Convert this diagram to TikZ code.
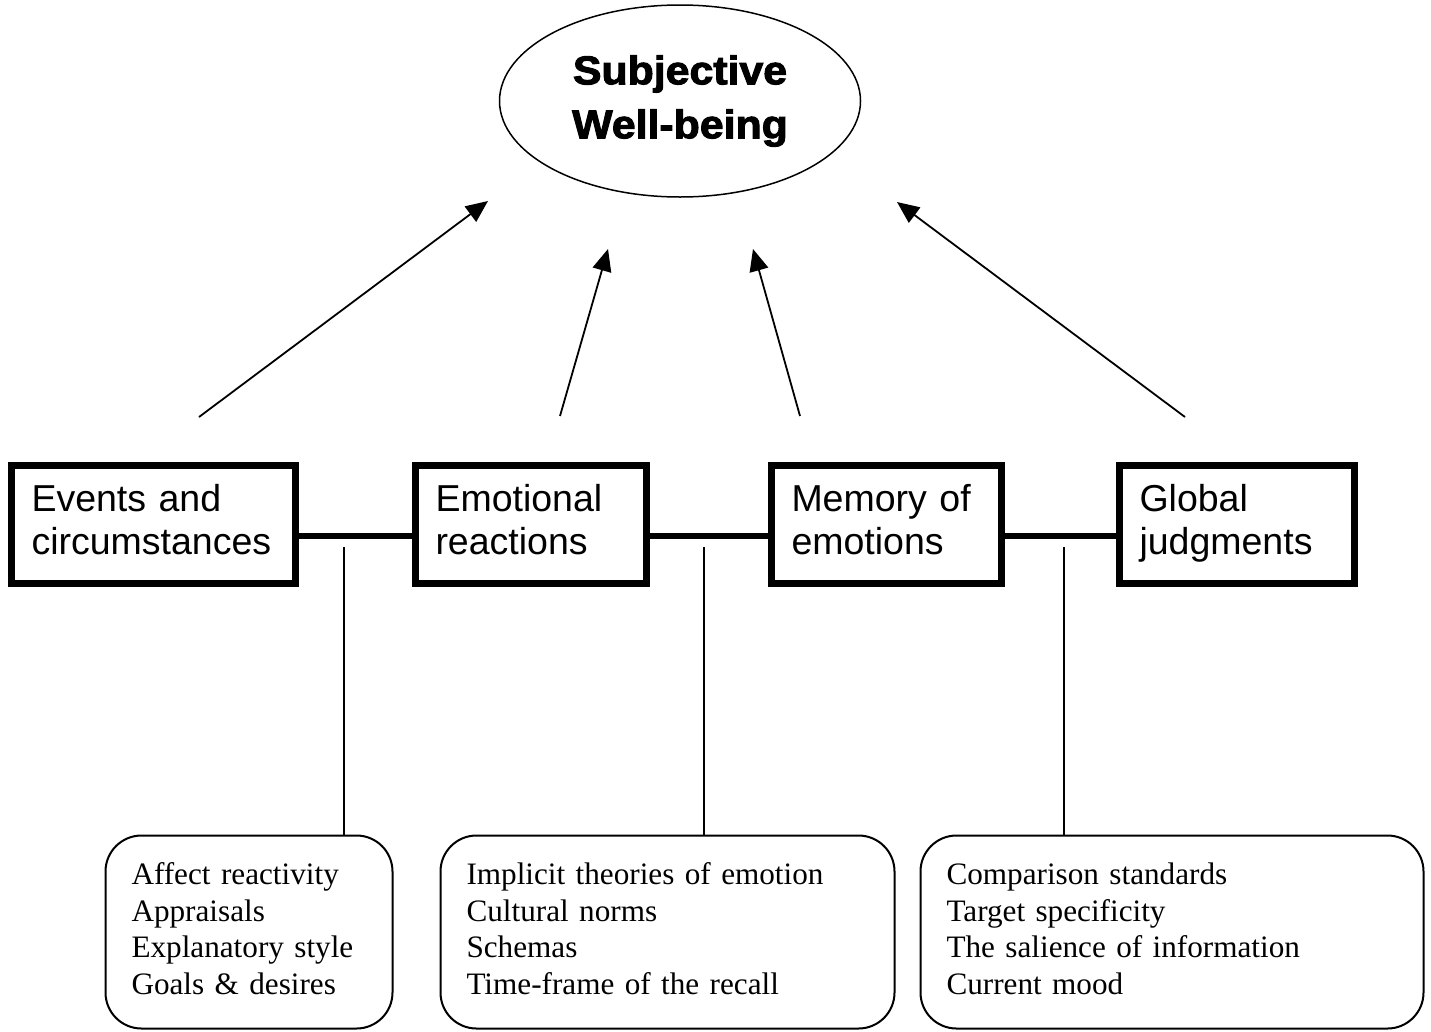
\documentclass[tikz,border=0pt]{standalone}
\usepackage{fontspec}
\setmainfont{Liberation Serif}
\setsansfont{Liberation Sans}
\newfontfamily\headfont[FakeBold=2.5,FakeStretch=1.07]{Liberation Sans Bold}
\usetikzlibrary{arrows.meta,shapes.geometric}
\tikzset{
  mainbox/.style={draw, line width=7pt, rectangle, minimum height=118pt, inner xsep=20pt, inner ysep=0pt,
    align=left, font=\sffamily\fontsize{37.5}{43}\selectfont, anchor=center,
    execute at begin node=\strut, execute at end node=\strut},
  subbox/.style={draw, line width=2pt, rectangle, rounded corners=36pt, minimum height=193pt, inner xsep=26pt, inner ysep=0pt,
    align=left, font=\rmfamily\fontsize{31.2}{36.7}\selectfont, anchor=center,
    execute at begin node=\strut, execute at end node=\strut},
  link/.style={line width=6pt},
  thin/.style={line width=1.5pt},
  upar/.style={line width=1.8pt, -{Triangle[length=22pt,width=19pt]}},
}
\begin{document}
\begin{tikzpicture}[x=1pt,y=-1pt]
\useasboundingbox (0,0) rectangle (1431,1031);
\node[draw, line width=1.5pt, ellipse, minimum width=361pt, minimum height=192pt, inner sep=0pt, align=center,
  font=\headfont\fontsize{40}{54}\selectfont] (swb) at (680,101) {Subjective\\Well-being};

\node[mainbox, minimum width=284pt, text width=244pt] (b1) at (153.5,524.5) {Events and\\circumstances};
\node[mainbox, minimum width=231pt, text width=191pt] (b2) at (531,524.5) {Emotional\\reactions};
\node[mainbox, minimum width=230pt, text width=190pt] (b3) at (886.5,524.5) {Memory of\\emotions};
\node[mainbox, minimum width=235pt, text width=195pt] (b4) at (1237,524.5) {Global\\judgments};

\coordinate (hy) at (0,536);
\draw[link] (b1.east |- hy) -- (b2.west |- hy);
\draw[link] (b2.east |- hy) -- (b3.west |- hy);
\draw[link] (b3.east |- hy) -- (b4.west |- hy);

\node[subbox, minimum width=287pt, text width=235pt] (s1) at (249,932) {Affect reactivity\\Appraisals\\Explanatory style\\Goals \& desires};
\node[subbox, minimum width=454pt, text width=402pt] (s2) at (667.5,932) {Implicit theories of emotion\\Cultural norms\\Schemas\\Time-frame of the recall};
\node[subbox, minimum width=503pt, text width=451pt] (s3) at (1172,932) {Comparison standards\\Target specificity\\The salience of information\\Current mood};

\coordinate (v1) at (344,547);
\coordinate (v2) at (704,547);
\coordinate (v3) at (1064,547);
\draw[thin] (v1) -- (v1 |- s1.north);
\draw[thin] (v2) -- (v2 |- s2.north);
\draw[thin] (v3) -- (v3 |- s3.north);

\coordinate (a1s) at (199,417);
\coordinate (a1e) at (488,201);
\coordinate (a2s) at (560,416);
\coordinate (a2e) at (608,249);
\coordinate (a3s) at (800,416);
\coordinate (a3e) at (753,249);
\coordinate (a4s) at (1185,417);
\coordinate (a4e) at (897,202);
\draw[upar] (a1s) -- (a1e);
\draw[upar] (a2s) -- (a2e);
\draw[upar] (a3s) -- (a3e);
\draw[upar] (a4s) -- (a4e);
\end{tikzpicture}
\end{document}
